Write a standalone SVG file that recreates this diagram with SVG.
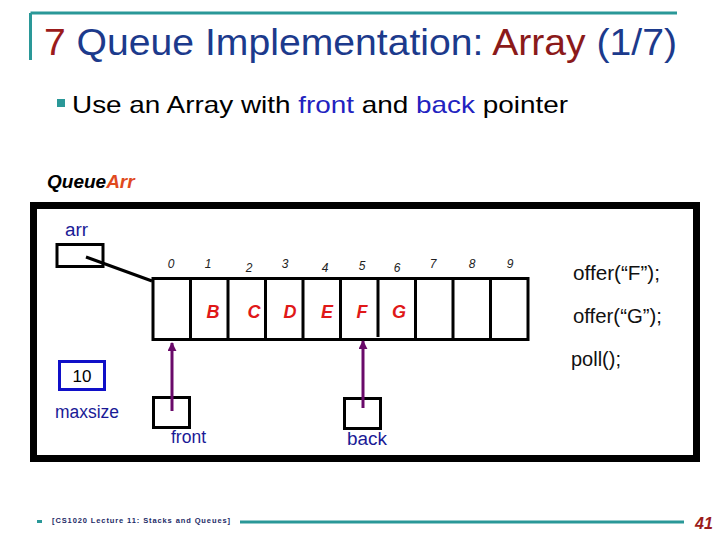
<svg xmlns="http://www.w3.org/2000/svg" width="720" height="540" viewBox="0 0 720 540">
<defs>
<style>
.lbl{font-family:"Liberation Sans",Arial,sans-serif;fill:#1a1a96;font-size:18px}
.idx{font-family:"Liberation Sans",Arial,sans-serif;font-style:italic;font-size:12px;fill:#222;text-anchor:middle}
.val{font-family:"Liberation Sans",Arial,sans-serif;font-style:italic;font-weight:bold;font-size:18px;fill:#e01818;text-anchor:middle}
.cmd{font-family:"Liberation Sans",Arial,sans-serif;font-size:20px;fill:#111}
.box{fill:#fff;stroke:#000;stroke-width:3}
.ptr{stroke:#6a0a6a;stroke-width:3;fill:none}
</style>
<marker id="ah" viewBox="0 0 10 10" refX="9" refY="5" markerWidth="3" markerHeight="3" orient="auto">
<path d="M0,0 L10,5 L0,10 z" fill="#6a0a6a"/>
</marker>
</defs>
<rect width="720" height="540" fill="#fff"/>
<!-- header -->
<g id="header">
<path d="M30.5,13 H677 M30.5,13 V60" stroke="#2a9898" stroke-width="3" fill="none"/>
<text x="44" y="55" font-family="'Liberation Sans',Arial,sans-serif" font-size="37" fill="#1c3a8c" textLength="633" lengthAdjust="spacingAndGlyphs"><tspan fill="#9b1b1b">7</tspan> Queue Implementation: <tspan fill="#8b1a1a">Array</tspan> (1/7)</text>
<rect x="57" y="99" width="8" height="8" fill="#2a9898"/>
<text x="72" y="113" font-family="'Liberation Sans',Arial,sans-serif" font-size="24" fill="#000" textLength="496" lengthAdjust="spacingAndGlyphs">Use an Array with <tspan fill="#2222c0">front</tspan> and <tspan fill="#2222c0">back</tspan> pointer</text>
</g>
<text x="47" y="188" font-family="'Liberation Sans',Arial,sans-serif" font-size="19" font-weight="bold" font-style="italic" fill="#000">Queue<tspan fill="#e04a1e">Arr</tspan></text>
<!-- outer frame -->
<rect id="frame" x="33.5" y="205.5" width="663" height="253" fill="#fff" stroke="#000" stroke-width="7"/>
<g id="arr">
<text class="lbl" x="65" y="236" textLength="23" lengthAdjust="spacingAndGlyphs">arr</text>
<rect class="box" x="57" y="244.5" width="46" height="22"/>
</g>
<g id="array">
<rect class="box" x="153" y="278.5" width="375" height="61"/>
<path d="M190.5,278.5V339.5 M228,278.5V339.5 M265.5,278.5V339.5 M303,278.5V339.5 M340.5,278.5V339.5 M378,278.5V337 M415.5,278.5V339.5 M453,278.5V339.5 M490.5,278.5V339.5" stroke="#000" stroke-width="3"/>
<text class="idx" x="171" y="268">0</text>
<text class="idx" x="208" y="268">1</text>
<text class="idx" x="249" y="272">2</text>
<text class="idx" x="285" y="268">3</text>
<text class="idx" x="325" y="272">4</text>
<text class="idx" x="362" y="270">5</text>
<text class="idx" x="397" y="272">6</text>
<text class="idx" x="433" y="268">7</text>
<text class="idx" x="472" y="268">8</text>
<text class="idx" x="510" y="268">9</text>
<text class="val" x="213" y="318">B</text>
<text class="val" x="254" y="318">C</text>
<text class="val" x="290" y="318">D</text>
<text class="val" x="327" y="318">E</text>
<text class="val" x="362" y="318">F</text>
<text class="val" x="399" y="318">G</text>
</g>
<g id="maxsize">
<rect x="59.5" y="361.5" width="45" height="28" fill="#fff" stroke="#1010c8" stroke-width="3"/>
<text x="82" y="382" font-family="'Liberation Sans',Arial,sans-serif" font-size="17" fill="#000" text-anchor="middle">10</text>
<text class="lbl" x="55" y="418" textLength="64" lengthAdjust="spacingAndGlyphs">maxsize</text>
</g>
<g id="front">
<rect class="box" x="153.5" y="397.5" width="36" height="30"/>
<text class="lbl" x="171" y="443" textLength="35" lengthAdjust="spacingAndGlyphs">front</text>
</g>
<g id="back">
<rect class="box" x="344.5" y="398.5" width="36" height="30"/>
<text class="lbl" x="347" y="445" textLength="40" lengthAdjust="spacingAndGlyphs">back</text>
</g>
<g id="ops">
<text class="cmd" x="573" y="280" textLength="87" lengthAdjust="spacingAndGlyphs">offer(“F”);</text>
<text class="cmd" x="573" y="323" textLength="89" lengthAdjust="spacingAndGlyphs">offer(“G”);</text>
<text class="cmd" x="571" y="366" textLength="50" lengthAdjust="spacingAndGlyphs">poll();</text>
</g>
<g id="connectors">
<line x1="86" y1="257" x2="152" y2="281" stroke="#000" stroke-width="3"/>
<line class="ptr" x1="172" y1="411" x2="172" y2="343" marker-end="url(#ah)"/>
<line class="ptr" x1="363" y1="408" x2="363" y2="341" marker-end="url(#ah)"/>
</g>
<g id="footer">
<rect x="37" y="520" width="5" height="3" fill="#2a9898"/>
<text x="52" y="523" font-family="'Liberation Sans',Arial,sans-serif" font-size="7.5" font-weight="bold" fill="#1c2a66" textLength="178" lengthAdjust="spacing">[CS1020 Lecture 11: Stacks and Queues]</text>
<line x1="240" y1="522" x2="684" y2="522" stroke="#2a9898" stroke-width="3"/>
<text x="695" y="529" font-family="'Liberation Sans',Arial,sans-serif" font-size="16" font-weight="bold" font-style="italic" fill="#9b1b1b">41</text>
</g>
</svg>
